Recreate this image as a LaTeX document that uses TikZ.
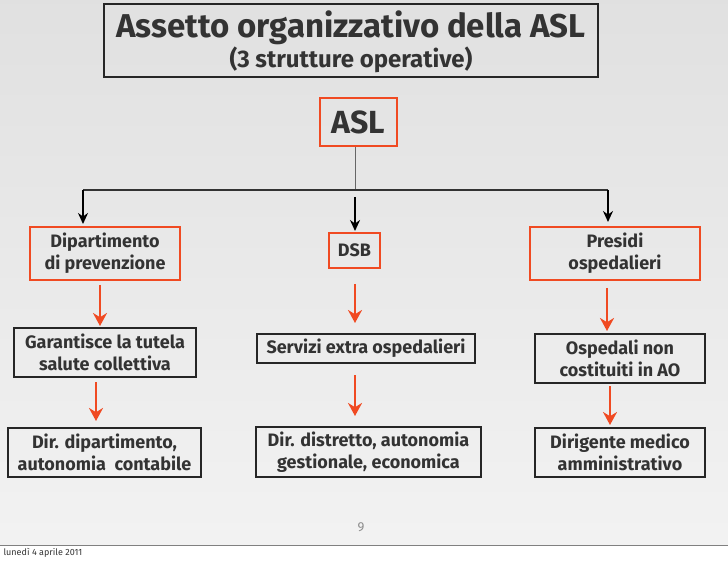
\documentclass[tikz,border=0pt]{standalone}
\usepackage{fontspec}
\setmainfont{Fira Sans}
\usetikzlibrary{arrows.meta}
\definecolor{ored}{HTML}{F04A22}
\begin{document}
\begin{tikzpicture}[x=1pt,y=-1pt,
  txt/.style={text=black!80, font=\bfseries\fontsize{18}{22}\selectfont, align=center},
  rbox/.style={draw=ored, line width=2.2pt, inner sep=0pt},
  kbox/.style={draw=black!85, line width=1.8pt, inner sep=0pt},
  rarr/.style={draw=ored, line width=2.6pt, -{Stealth[length=13pt,width=14pt]}},
  karr/.style={draw=black, line width=2pt, -{Stealth[length=11pt,width=10pt]}}]
\useasboundingbox (0,0) rectangle (728,561);
\fill[white] (0,0) rectangle (728,561);
\shade[top color=black!12, bottom color=black!5] (0,0) rectangle (728,545);
\draw[black!50] (0,545) -- (728,545);
% title
\node[kbox, minimum width=494pt, minimum height=73pt] (title) at (351,40.5) {};
\node[txt, font=\bfseries\fontsize{33}{36}\selectfont] (t1) at (351,28) {Assetto organizzativo della ASL};
\node[txt, font=\bfseries\fontsize{24}{26}\selectfont] (t2) at (351,60) {(3 strutture operative)};
% level boxes
\node[rbox, minimum width=77pt, minimum height=48pt, txt, font=\bfseries\fontsize{32}{34}\selectfont] (asl) at (358.5,122) {ASL};
\node[rbox, minimum width=150pt, minimum height=53pt, txt] (dip) at (105,253.5) {Dipartimento\\di prevenzione};
\node[rbox, minimum width=51pt, minimum height=35pt, txt] (dsb) at (354.5,250.5) {DSB};
\node[rbox, minimum width=170pt, minimum height=53pt, txt] (pre) at (615,253.5) {Presidi\\ospedalieri};
\node[kbox, minimum width=182pt, minimum height=49pt, txt] (gar) at (105,352.5) {Garantisce la tutela\\salute collettiva};
\node[kbox, minimum width=218pt, minimum height=29pt, txt] (ser) at (366,348.5) {Servizi extra ospedalieri};
\node[kbox, minimum width=170pt, minimum height=49pt, txt] (osp) at (620,358.5) {Ospedali non\\costituiti in AO};
\node[kbox, minimum width=193pt, minimum height=49pt, txt] (dd) at (104.5,452.5) {Dir. dipartimento,\\autonomia\ \ contabile};
\node[kbox, minimum width=225pt, minimum height=50pt, txt] (dt) at (368.5,452) {Dir. distretto, autonomia\\gestionale, economica};
\node[kbox, minimum width=170pt, minimum height=49pt, txt] (dm) at (620,452.5) {Dirigente medico\\amministrativo};
% tree connectors
\coordinate (j) at (355,190);
\coordinate (jl) at (83,190);
\coordinate (jr) at (608,190);
\coordinate (sm) at (355,197);
\draw[black!60, line width=1pt] (asl.south -| j) -- (j);
\draw[black!80, line width=1.6pt] (jl) -- (jr);
\draw[karr] (jl) -- (83,224);
\draw[karr] (sm) -- (355,231);
\draw[karr] (jr) -- (608,222);
% red arrows
\draw[rarr] (100,285) -- (100,326);
\draw[rarr] (355,284) -- (355,323);
\draw[rarr] (607,288) -- (607,331);
\draw[rarr] (96,382) -- (96,421);
\draw[rarr] (355,375) -- (355,416);
\draw[rarr] (610,386) -- (610,425);
\node[text=black!45, font=\fontsize{13}{14}\selectfont] (pg) at (361,527) {9};
\node[anchor=west, font=\fontsize{9}{10}\selectfont, text=black!80] (date) at (0,553) {lunedì 4 aprile 2011};
\end{tikzpicture}
\end{document}
